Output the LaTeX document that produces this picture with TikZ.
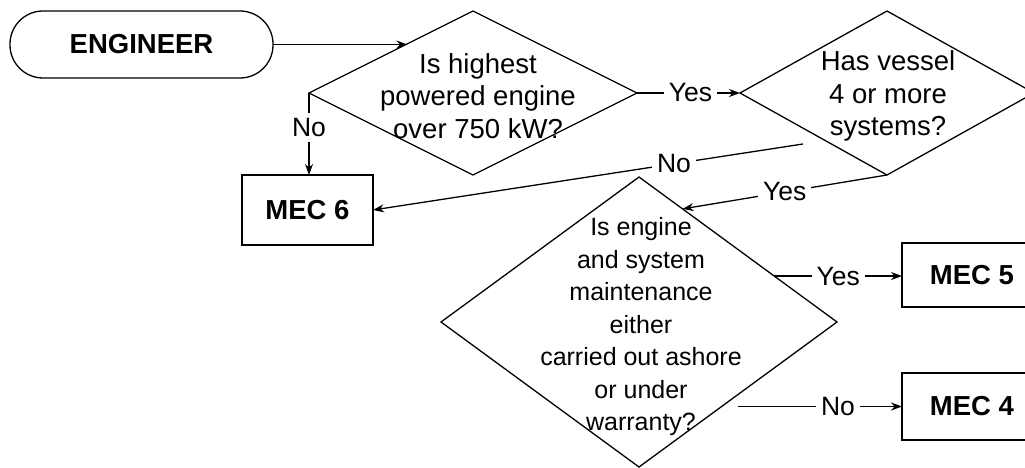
\documentclass[tikz,border=0pt]{standalone}
\usepackage{fontspec}
\setmainfont{Liberation Sans}
\usetikzlibrary{shapes.geometric,arrows.meta}
\begin{document}
\begin{tikzpicture}[x=1pt,y=-1pt,
  line width=1.3pt,
  dia/.style={draw, shape=diamond, inner sep=0pt, outer sep=0pt},
  txtA/.style={align=center, font=\fontsize{27.5}{32.5}\selectfont, inner sep=0pt},
  txtB/.style={align=center, font=\fontsize{25}{32.5}\selectfont, inner sep=0pt},
  boxn/.style={draw, font=\fontsize{27.5}{32}\selectfont\bfseries, inner sep=0pt, outer sep=0pt},
  lbl/.style={fill=white, font=\fontsize{26.5}{30}\selectfont, inner sep=5pt},
  arr/.style={-{Stealth[length=11pt,width=8pt]}},
]
\useasboundingbox (0,0) rectangle (1025,468);
\fill[white] (0,0) rectangle (1025,468);
\clip (0,0) rectangle (1025,468);

\node[boxn, rounded corners=33pt, minimum width=263pt, minimum height=67pt] (eng) at (141.5,44.5) {ENGINEER};
\node[dia, minimum width=328pt, minimum height=164pt] (d1) at (473,93) {};
\node[txtA] (t1) at (478,96) {Is highest\\powered engine\\over 750 kW?};
\node[dia, minimum width=294pt, minimum height=164pt] (d2) at (887,93) {};
\node[txtA] (t2) at (888,96) {Has vessel\\4 or more\\systems?};
\node[dia, minimum width=396pt, minimum height=290pt] (d3) at (639,322) {};
\node[txtB] (t3) at (641,327) {Is engine\\and system\\maintenance\\either\\carried out ashore\\or under\\warranty?};
\node[boxn, minimum width=131pt, minimum height=70pt] (m6) at (307.5,210) {MEC 6};
\node[boxn, minimum width=140pt, minimum height=64pt] (m5) at (972,275) {MEC 5};
\node[boxn, minimum width=140pt, minimum height=67pt] (m4) at (972,406.5) {MEC 4};

\path (d1.west) -- (d1.north) coordinate[pos=0.6] (d1in);
\draw[arr] (eng.east) -- (eng.east -| d1in);

\draw[arr] (d1.west) -- node[lbl, pos=0.42]{No} (d1.west |- m6.north);
\draw[arr] (d1.east) -- node[lbl, pos=0.52]{Yes} (d2.west);

\coordinate (d2no) at (803,144);
\draw[arr] (d2no) -- node[lbl, pos=0.30]{No} (m6.east);

\path (d3.north) -- (d3.east) coordinate[pos=0.22] (d3in);
\draw[arr] (d2.south) -- node[lbl, pos=0.5]{Yes} (d3in);

\path (d3.north) -- (d3.east) coordinate[pos=0.683] (d3yes);
\draw[arr] (d3yes) -- node[lbl, pos=0.5]{Yes} (d3yes -| m5.west);

\coordinate (d3no) at (738,406.5);
\draw[arr] (d3no) -- node[lbl, pos=0.61]{No} (m4.west);
\end{tikzpicture}
\end{document}
